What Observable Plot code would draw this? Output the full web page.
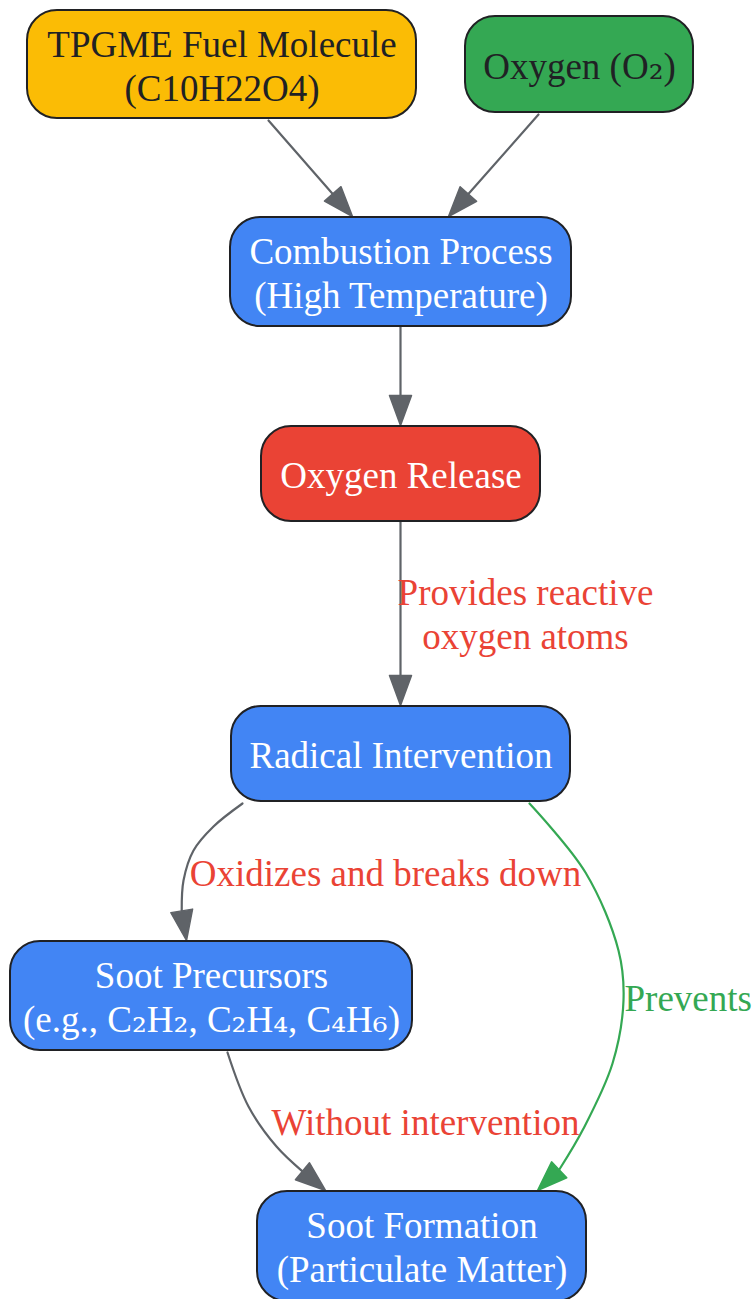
<!DOCTYPE html>
<html>
<head>
<meta charset="utf-8">
<script src="https://cdn.jsdelivr.net/npm/d3@7"></script>
<script src="https://cdn.jsdelivr.net/npm/@observablehq/plot@0.6"></script>
<style>
  html, body { margin: 0; padding: 0; background: #ffffff; }
  #chart svg { display: block; }
</style>
</head>
<body>
<div id="chart"></div>
<script>
// ---- Node data ----
const nodeLabels = [
  "TPGME Fuel Molecule\n(C10H22O4)",
  "Oxygen (O\u2082)",
  "Combustion Process\n(High Temperature)",
  "Oxygen Release",
  "Radical Intervention",
  "Soot Precursors\n(e.g., C\u2082H\u2082, C\u2082H\u2084, C\u2084H\u2086)",
  "Soot Formation\n(Particulate Matter)"
];
const nodeKinds = ["fuel", "oxygen", "process", "release", "process", "process", "process"];

// ---- Node layout (diagram coordinates) ----
const nodeLeft   = [27, 465, 230, 261, 231, 10, 257];
const nodeRight  = [416, 693, 571, 540, 570, 412, 586];
const nodeTop    = [10, 16, 217, 426, 706, 941, 1191];
const nodeBottom = [118, 112, 326, 521, 801, 1050, 1301];

// ---- Edge data ----
const edgeFrom  = [0, 1, 2, 3, 4, 4, 5];
const edgeTo    = [2, 2, 3, 4, 5, 6, 6];
const edgeKinds = ["plain", "plain", "plain", "plain", "plain", "prevent", "plain"];
// edge routes (last point is the arrow tip)
const edgeRoutes = [
  [[268, 120], [352, 216]],
  [[538, 114], [448, 216]],
  [[400, 327], [400, 425]],
  [[400, 522], [400, 705]],
  [[242, 803], [213, 826], [193, 850], [183, 880], [181, 909], [186, 940]],
  [[529, 803], [585, 872], [618, 950], [623, 1000], [612, 1063], [583, 1128], [560, 1168], [537, 1190]],
  [[227, 1052], [248, 1106], [276, 1146], [301, 1170], [325, 1190]]
];

// ---- Edge labels ----
const edgeLabels = ["Provides reactive\noxygen atoms", "Oxidizes and breaks down", "Prevents", "Without intervention"];
const edgeLabelKinds = ["effect", "effect", "prevent", "effect"];
const edgeLabelX = [525, 385, 624, 425];
const edgeLabelY = [612, 871, 996, 1120];
const edgeLabelAnchor = ["middle", "middle", "start", "middle"];

// ---- Styles ----
const kindFill = {fuel: "#FBBC05", oxygen: "#34A853", process: "#4285F4", release: "#EA4335"};
const kindText = {fuel: "#202124", oxygen: "#202124", process: "#ffffff", release: "#ffffff"};
const edgeColor = {plain: "#5F6368", prevent: "#34A853"};
const labelColor = {effect: "#EA4335", prevent: "#34A853"};
const FONT = "'Liberation Serif', 'Times New Roman', serif";
const SUB_FONT = "'DejaVu Serif', serif";
const W = 752, H = 1299;
const ARROW_LEN = 30, ARROW_HALF = 11;

// Build tables
const nodes = nodeLabels.map((label, i) => ({
  label, kind: nodeKinds[i],
  x1: nodeLeft[i], x2: nodeRight[i], y1: nodeTop[i], y2: nodeBottom[i],
  cx: (nodeLeft[i] + nodeRight[i]) / 2,
  cy: (nodeTop[i] + Math.min(nodeBottom[i], nodeTop[i] + 108)) / 2
}));

const edgeLines = [];
const arrowHeads = [];
edgeRoutes.forEach((pts, e) => {
  const n = pts.length;
  const tip = pts[n - 1];
  const prev = pts[n - 2];
  const dx = tip[0] - prev[0], dy = tip[1] - prev[1];
  const L = Math.hypot(dx, dy);
  const ux = dx / L, uy = dy / L;
  const base = [tip[0] - ux * ARROW_LEN, tip[1] - uy * ARROW_LEN];
  let path = pts.slice(0, -1);
  if (path.length > 1 && L < 40) path = path.slice(0, -1);
  path = path.concat([base]);
  path.forEach((p, k) => edgeLines.push({edge: e, kind: edgeKinds[e], k, x: p[0], y: p[1]}));
  const px = -uy, py = ux;
  const tri = [
    tip,
    [base[0] + px * ARROW_HALF, base[1] + py * ARROW_HALF],
    [base[0] - px * ARROW_HALF, base[1] - py * ARROW_HALF]
  ];
  tri.forEach((p, k) => arrowHeads.push({edge: e, kind: edgeKinds[e], k, x: p[0], y: p[1]}));
});

const labels = edgeLabels.map((text, i) => ({
  text, kind: edgeLabelKinds[i], x: edgeLabelX[i], y: edgeLabelY[i], anchor: edgeLabelAnchor[i]
}));

const plot = Plot.plot({
  width: W,
  height: H,
  margin: 0,
  x: {domain: [0, W], axis: null},
  y: {domain: [0, H], axis: null, reverse: true},
  style: {background: "#ffffff", fontFamily: FONT},
  marks: [
    // edges
    Plot.line(edgeLines, {
      x: "x", y: "y", z: "edge",
      stroke: d => edgeColor[d.kind],
      strokeWidth: 2.2,
      curve: "catmull-rom"
    }),
    Plot.line(arrowHeads, {
      x: "x", y: "y", z: "edge",
      fill: d => edgeColor[d.kind],
      stroke: d => edgeColor[d.kind],
      strokeWidth: 1.5,
      curve: "linear-closed"
    }),
    // nodes
    Plot.rect(nodes, {
      x1: "x1", x2: "x2", y1: "y1", y2: "y2",
      fill: d => kindFill[d.kind],
      stroke: "#202124",
      strokeWidth: 2,
      rx: 30, ry: 30
    }),
    Plot.text(nodes, {
      x: "cx", y: "cy", text: "label",
      fill: d => kindText[d.kind],
      fontSize: 37,
      lineHeight: 1.19,
      fontFamily: FONT
    }),
    // edge labels
    ...["middle", "start"].map(a => Plot.text(labels.filter(d => d.anchor === a), {
      x: "x", y: "y", text: "text",
      fill: d => labelColor[d.kind],
      textAnchor: a,
      fontSize: 37,
      lineHeight: 1.19,
      fontFamily: FONT
    }))
  ]
});

// render subscript digits with a fallback-like font (as in the reference)
plot.querySelectorAll("text, tspan").forEach(el => {
  if (el.children.length) return;
  const s = el.textContent;
  if (!/[\u2080-\u2089]/.test(s)) return;
  el.textContent = "";
  s.split(/([\u2080-\u2089]+)/).forEach(part => {
    if (!part) return;
    if (/[\u2080-\u2089]/.test(part)) {
      const t = document.createElementNS("http://www.w3.org/2000/svg", "tspan");
      t.setAttribute("font-family", SUB_FONT);
      t.textContent = part;
      el.appendChild(t);
    } else {
      el.appendChild(document.createTextNode(part));
    }
  });
});

document.getElementById("chart").appendChild(plot);
</script>
</body>
</html>
